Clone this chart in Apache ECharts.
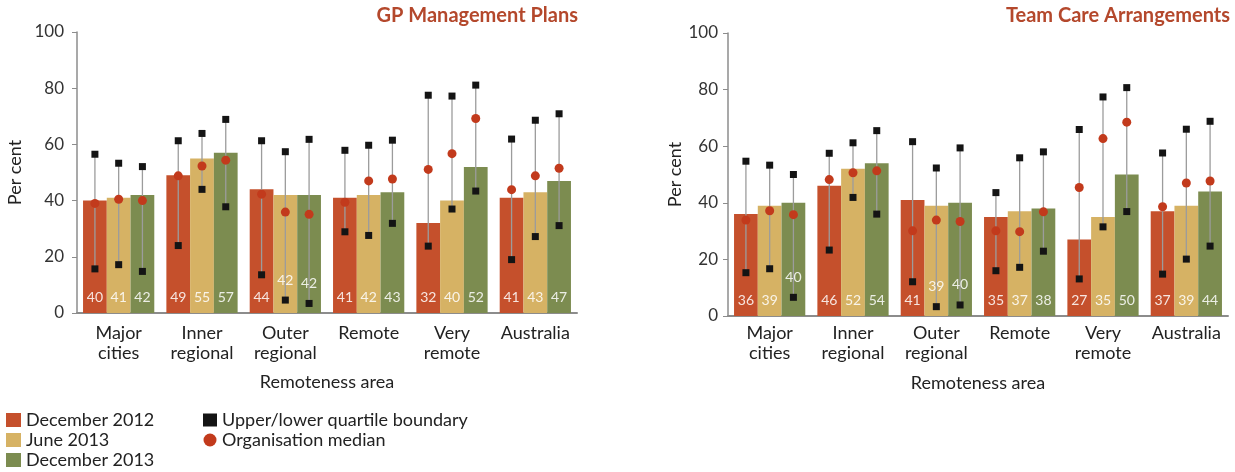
<!DOCTYPE html>
<html>
<head>
<meta charset="utf-8">
<script src="https://cdn.jsdelivr.net/npm/echarts@6/dist/echarts.min.js"></script>
<style>
html,body{margin:0;padding:0;background:#fff;}
#chart{width:1235px;height:472px;}
</style>
</head>
<body>
<div id="chart"></div>
<script>
// ---- Data ----
const categories = ['Major\ncities', 'Inner\nregional', 'Outer\nregional', 'Remote', 'Very\nremote', 'Australia'];
const periods = ['December 2012', 'June 2013', 'December 2013'];
const yTicks = [0, 20, 40, 60, 80, 100];

// GP Management Plans
const gpDec12 = [40, 49, 44, 41, 32, 41];
const gpJun13 = [41, 55, 42, 42, 40, 43];
const gpDec13 = [42, 57, 42, 43, 52, 47];
const gpLowerDec12 = [15.7, 24.0, 13.6, 28.9, 23.8, 19.0];
const gpLowerJun13 = [17.2, 44.0, 4.6, 27.6, 37.0, 27.2];
const gpLowerDec13 = [14.8, 37.8, 3.4, 31.9, 43.4, 31.1];
const gpMedianDec12 = [39.0, 48.8, 42.3, 39.4, 51.1, 43.9];
const gpMedianJun13 = [40.5, 52.3, 35.9, 47.0, 56.7, 48.8];
const gpMedianDec13 = [40.0, 54.4, 35.1, 47.7, 69.2, 51.5];
const gpUpperDec12 = [56.5, 61.3, 61.3, 57.9, 77.5, 61.9];
const gpUpperJun13 = [53.3, 63.9, 57.4, 59.7, 77.2, 68.6];
const gpUpperDec13 = [52.1, 68.9, 61.8, 61.5, 81.1, 70.9];

// Team Care Arrangements
const tcaDec12 = [36, 46, 41, 35, 27, 37];
const tcaJun13 = [39, 52, 39, 37, 35, 39];
const tcaDec13 = [40, 54, 40, 38, 50, 44];
const tcaLowerDec12 = [15.3, 23.3, 12.1, 16.0, 13.1, 14.8];
const tcaLowerJun13 = [16.7, 41.9, 3.3, 17.2, 31.5, 20.1];
const tcaLowerDec13 = [6.6, 36.0, 3.9, 22.9, 36.9, 24.7];
const tcaMedianDec12 = [33.9, 48.2, 30.1, 30.1, 45.4, 38.6];
const tcaMedianJun13 = [37.2, 50.6, 33.9, 29.8, 62.7, 47.0];
const tcaMedianDec13 = [35.8, 51.3, 33.4, 36.8, 68.5, 47.7];
const tcaUpperDec12 = [54.7, 57.5, 61.6, 43.6, 65.9, 57.6];
const tcaUpperJun13 = [53.3, 61.2, 52.3, 55.9, 77.4, 66.0];
const tcaUpperDec13 = [50.0, 65.5, 59.4, 58.0, 80.7, 68.8];

// ---- Styling ----
const FONT = 'Lato, "Open Sans", sans-serif';
const barColors = ['#c5502c', '#d6b264', '#7c8c50'];
const medianColor = '#c23a1c';
const quartileColor = '#141414';
const whiskerColor = '#9c9c9c';
const CAT_GAP = 0.145;

const charts = [
  { title: 'GP Management Plans', bars: [gpDec12, gpJun13, gpDec13],
    lower: [gpLowerDec12, gpLowerJun13, gpLowerDec13],
    median: [gpMedianDec12, gpMedianJun13, gpMedianDec13],
    upper: [gpUpperDec12, gpUpperJun13, gpUpperDec13] },
  { title: 'Team Care Arrangements', bars: [tcaDec12, tcaJun13, tcaDec13],
    lower: [tcaLowerDec12, tcaLowerJun13, tcaLowerDec13],
    median: [tcaMedianDec12, tcaMedianJun13, tcaMedianDec13],
    upper: [tcaUpperDec12, tcaUpperJun13, tcaUpperDec13] }
];

function xOffset(api, period) {
  const band = api.size([1, 0])[0];
  const bw = band * (1 - CAT_GAP) / 3;
  return { off: (period - 1) * bw, bw: bw };
}

function whiskerRender(params, api) {
  const cat = api.value(0), p = api.value(1);
  const lo = api.coord([cat, api.value(2)]);
  const hi = api.coord([cat, api.value(3)]);
  const o = xOffset(api, p);
  const x = lo[0] + o.off;
  const s = 7;
  return { type: 'group', children: [
    { type: 'line', shape: { x1: x, y1: lo[1], x2: x, y2: hi[1] }, style: { stroke: whiskerColor, lineWidth: 1.3 } },
    { type: 'rect', shape: { x: x - s / 2, y: lo[1] - s / 2, width: s, height: s }, style: { fill: quartileColor } },
    { type: 'rect', shape: { x: x - s / 2, y: hi[1] - s / 2, width: s, height: s }, style: { fill: quartileColor } }
  ]};
}

function medianRender(params, api) {
  const cat = api.value(0), p = api.value(1);
  const c = api.coord([cat, api.value(2)]);
  const o = xOffset(api, p);
  return { type: 'circle', shape: { cx: c[0] + o.off, cy: c[1], r: 4.5 }, style: { fill: medianColor } };
}

// value label sits near the bar base, lifted above the lower-quartile marker when that marker is in the way
function labelRender(params, api) {
  const cat = api.value(0), p = api.value(1);
  const zero = api.coord([cat, 0]);
  const lo = api.coord([cat, api.value(3)]);
  const o = xOffset(api, p);
  const base = zero[1] - 16;
  const y = lo[1] > base - 12 ? lo[1] - 20 : base;
  return { type: 'text', x: zero[0] + o.off, y: y, style: {
    text: String(api.value(2)), fill: 'rgba(255,255,255,0.85)', font: '14px ' + FONT,
    align: 'center', verticalAlign: 'middle' } };
}

const grids = [
  { left: 77, top: 32, width: 500, height: 281 },
  { left: 728, top: 33, width: 500, height: 283 }
];

const option = {
  animation: false,
  textStyle: { fontFamily: FONT },
  title: [
    { text: charts[0].title, right: 657, top: 6, padding: 0, textStyle: { color: '#b4482c', fontSize: 20, fontWeight: 'bold', fontFamily: FONT } },
    { text: charts[1].title, right: 5, top: 6, padding: 0, textStyle: { color: '#b4482c', fontSize: 20, fontWeight: 'bold', fontFamily: FONT } }
  ],
  legend: [
    { left: 6, top: 411, orient: 'vertical', padding: 0, itemWidth: 15, itemHeight: 14, itemGap: 2,
      textStyle: { fontSize: 18, color: '#222', lineHeight: 18, fontFamily: FONT },
      data: periods.map(p => ({ name: p, icon: 'rect' })) },
    { left: 203, top: 411, orient: 'vertical', padding: 0, itemWidth: 14, itemHeight: 13, itemGap: 2,
      textStyle: { fontSize: 18, color: '#222', lineHeight: 18, fontFamily: FONT },
      data: [{ name: 'Upper/lower quartile boundary', icon: 'rect' }, { name: 'Organisation median', icon: 'circle' }] }
  ],
  grid: grids,
  xAxis: grids.map((g, i) => ({
    type: 'category', gridIndex: i, data: categories,
    axisTick: { show: false },
    axisLine: { lineStyle: { color: '#8c8c8c', width: 2 } },
    axisLabel: { interval: 0, fontSize: 18, color: '#222', lineHeight: 20, margin: i === 0 ? 10 : 7, fontFamily: FONT },
    name: 'Remoteness area', nameLocation: 'middle', nameGap: i === 0 ? 60 : 58,
    nameTextStyle: { fontSize: 18, color: '#222', fontFamily: FONT }
  })),
  yAxis: grids.map((g, i) => ({
    type: 'value', gridIndex: i, min: yTicks[0], max: yTicks[yTicks.length - 1], interval: 20,
    axisLine: { show: true, lineStyle: { color: '#8c8c8c', width: 1.5 } },
    axisTick: { show: true, length: 5, lineStyle: { color: '#8c8c8c' } },
    splitLine: { show: false },
    axisLabel: { fontSize: 17, color: '#333', margin: i === 0 ? 13 : 10, fontFamily: FONT },
    name: 'Per cent', nameLocation: 'middle', nameRotate: 90, nameGap: i === 0 ? 53 : 44,
    nameTextStyle: { fontSize: 18, color: '#222', fontFamily: FONT }
  })),
  series: []
};

charts.forEach((ch, gi) => {
  periods.forEach((p, pi) => {
    option.series.push({
      type: 'bar', name: p, xAxisIndex: gi, yAxisIndex: gi, data: ch.bars[pi],
      barGap: 0, barCategoryGap: (CAT_GAP * 100) + '%',
      itemStyle: { color: barColors[pi] }, z: 2
    });
  });
  const wData = [], mData = [], lData = [];
  periods.forEach((p, pi) => {
    categories.forEach((c, ci) => {
      wData.push([ci, pi, ch.lower[pi][ci], ch.upper[pi][ci]]);
      mData.push([ci, pi, ch.median[pi][ci]]);
      lData.push([ci, pi, ch.bars[pi][ci], ch.lower[pi][ci]]);
    });
  });
  option.series.push({ type: 'custom', name: 'Upper/lower quartile boundary', xAxisIndex: gi, yAxisIndex: gi,
    renderItem: whiskerRender, data: wData, itemStyle: { color: quartileColor }, z: 3,
    encode: { x: 0, y: [2, 3] } });
  option.series.push({ type: 'custom', name: 'Organisation median', xAxisIndex: gi, yAxisIndex: gi,
    renderItem: medianRender, data: mData, itemStyle: { color: medianColor }, z: 4,
    encode: { x: 0, y: 2 } });
  option.series.push({ type: 'custom', name: 'labels' + gi, xAxisIndex: gi, yAxisIndex: gi,
    renderItem: labelRender, data: lData, z: 5, silent: true,
    encode: { x: 0, y: 2 } });
});

const chart = echarts.init(document.getElementById('chart'), null, { renderer: 'canvas' });
chart.setOption(option);
</script>
</body>
</html>
